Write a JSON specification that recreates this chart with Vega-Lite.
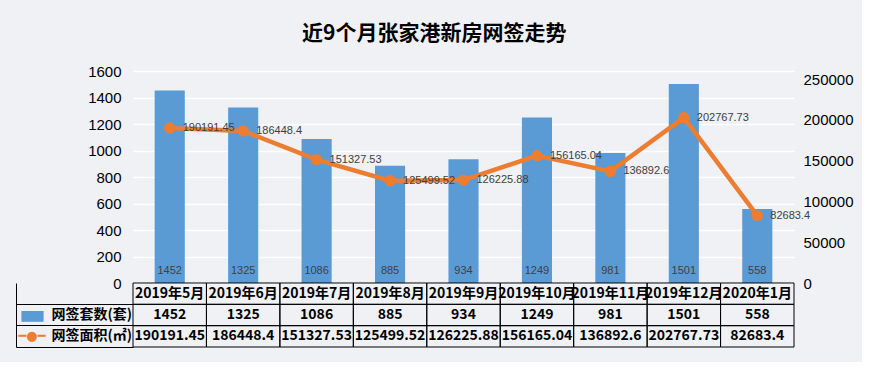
{
  "$schema": "https://vega.github.io/schema/vega-lite/v6.json",
  "background": "#eff1f5",
  "padding": {"left": 15, "top": 23, "right": 8, "bottom": 14},
  "title": {"text": "近9个月张家港新房网签走势", "font": "Noto Sans CJK SC", "fontSize": 21, "fontWeight": "bold", "color": "#000000", "anchor": "middle", "offset": 20},
  "data": {"values": [
    {"month": "2019年5月", "count": 1452, "area": 190191.45},
    {"month": "2019年6月", "count": 1325, "area": 186448.4},
    {"month": "2019年7月", "count": 1086, "area": 151327.53},
    {"month": "2019年8月", "count": 885, "area": 125499.52},
    {"month": "2019年9月", "count": 934, "area": 126225.88},
    {"month": "2019年10月", "count": 1249, "area": 156165.04},
    {"month": "2019年11月", "count": 981, "area": 136892.6},
    {"month": "2019年12月", "count": 1501, "area": 202767.73},
    {"month": "2020年1月", "count": 558, "area": 82683.4}
  ]},
  "spacing": 0,
  "bounds": "flush",
  "config": {"view": {"stroke": null}, "axis": {"labelOverlap": false}},
  "vconcat": [
    {
      "width": 661,
      "height": 212,
      "layer": [
        {
          "mark": {"type": "bar", "color": "#5b9bd5"},
          "encoding": {
            "x": {"field": "month", "type": "nominal", "sort": null, "scale": {"paddingInner": 0.59, "paddingOuter": 0.295}, "axis": null},
            "y": {"field": "count", "type": "quantitative", "scale": {"domain": [0, 1600]},
              "axis": {"orient": "left", "values": [0, 200, 400, 600, 800, 1000, 1200, 1400, 1600], "format": "d", "labelOverlap": false, "title": null, "domain": false, "ticks": false, "labelFont": "Liberation Sans", "labelFontSize": 15, "labelColor": "#000000", "labelPadding": 12, "grid": true, "gridColor": "#ffffff", "gridWidth": 1.5}}
          }
        },
        {
          "layer": [
            {
              "mark": {"type": "line", "color": "#ed7d31", "strokeWidth": 4.5},
              "encoding": {
                "x": {"field": "month", "type": "nominal", "sort": null},
                "y": {"field": "area", "type": "quantitative", "scale": {"domain": [0, 250000]},
                  "axis": {"orient": "right", "values": [0, 50000, 100000, 150000, 200000, 250000], "format": "d", "labelOverlap": false, "title": null, "domain": false, "ticks": false, "grid": false, "labelFont": "Liberation Sans", "labelFontSize": 15, "labelColor": "#000000", "labelPadding": 9}}
              }
            },
            {
              "mark": {"type": "point", "filled": true, "size": 130, "color": "#ed7d31", "opacity": 1},
              "encoding": {
                "x": {"field": "month", "type": "nominal", "sort": null},
                "y": {"field": "area", "type": "quantitative"}
              }
            },
            {
              "mark": {"type": "text", "align": "left", "baseline": "middle", "dx": 13, "fontSize": 11, "font": "Liberation Sans", "color": "#404040"},
              "encoding": {
                "x": {"field": "month", "type": "nominal", "sort": null},
                "y": {"field": "area", "type": "quantitative"},
                "text": {"field": "area", "type": "nominal"}
              }
            }
          ]
        },
        {
          "mark": {"type": "text", "baseline": "bottom", "dy": -7, "fontSize": 11, "font": "Liberation Sans", "color": "#404040"},
          "encoding": {
            "x": {"field": "month", "type": "nominal", "sort": null},
            "y": {"datum": 0, "type": "quantitative", "scale": {"domain": [0, 1]}, "axis": null},
            "text": {"field": "count", "type": "nominal"}
          }
        }
      ],
      "resolve": {"scale": {"y": "independent"}}
    },
    {
      "width": 661,
      "height": 64,
      "layer": [
        {
          "mark": {"type": "rect", "fillOpacity": 0, "stroke": "#000000", "strokeWidth": 1},
          "encoding": {
            "x": {"field": "month", "type": "nominal", "sort": null, "scale": {"paddingInner": 0, "paddingOuter": 0}, "axis": null},
            "y": {"datum": "月份", "type": "nominal", "scale": {"domain": ["月份", "网签套数(套)", "网签面积(㎡)"], "paddingInner": 0, "paddingOuter": 0},
              "axis": {"orient": "left", "offset": 117, "labels": false, "domain": true, "domainColor": "#000000", "domainWidth": 1, "ticks": true, "tickSize": -117, "tickColor": "#000000", "tickWidth": 1, "bandPosition": 1, "grid": false, "title": null}}
          }
        },
        {
          "mark": {"type": "rect", "fillOpacity": 0, "stroke": "#000000", "strokeWidth": 1},
          "encoding": {
            "x": {"field": "month", "type": "nominal", "sort": null},
            "y": {"datum": "网签套数(套)", "type": "nominal", "axis": null}
          }
        },
        {
          "mark": {"type": "rect", "fillOpacity": 0, "stroke": "#000000", "strokeWidth": 1},
          "encoding": {
            "x": {"field": "month", "type": "nominal", "sort": null},
            "y": {"datum": "网签面积(㎡)", "type": "nominal", "axis": null}
          }
        },
        {
          "mark": {"type": "text", "font": "Noto Sans CJK SC", "fontWeight": "bold", "fontSize": 14, "color": "#000000"},
          "encoding": {
            "x": {"field": "month", "type": "nominal", "sort": null},
            "y": {"datum": "月份", "type": "nominal",
              "axis": {"orient": "left", "domain": false, "ticks": false, "grid": false, "title": null, "labelAlign": "left", "labelBaseline": "middle", "labelPadding": 82, "labelFont": "Noto Sans CJK SC", "labelFontWeight": "bold", "labelFontSize": 14, "labelColor": "#000000", "labelExpr": "datum.value == '月份' ? '' : datum.value"}},
            "text": {"field": "month", "type": "nominal"}
          }
        },
        {
          "mark": {"type": "text", "font": "Noto Sans CJK SC", "fontWeight": "bold", "fontSize": 14, "color": "#000000"},
          "encoding": {
            "x": {"field": "month", "type": "nominal", "sort": null},
            "y": {"datum": "网签套数(套)", "type": "nominal",
              "axis": {"orient": "left", "domain": false, "ticks": false, "grid": false, "title": null, "labelAlign": "left", "labelBaseline": "middle", "labelPadding": 115, "labelFont": "DejaVu Sans", "labelFontSize": {"condition": {"test": "datum.value == '网签套数(套)'", "value": 29}, "value": 13}, "labelExpr": "datum.value == '网签套数(套)' ? '▬' : (datum.value == '网签面积(㎡)' ? '━●━' : '')", "labelColor": {"condition": {"test": "datum.value == '网签套数(套)'", "value": "#5b9bd5"}, "value": "#ed7d31"}}},
            "text": {"field": "count", "type": "nominal"}
          }
        },
        {
          "mark": {"type": "text", "font": "Noto Sans CJK SC", "fontWeight": "bold", "fontSize": 14, "color": "#000000"},
          "encoding": {
            "x": {"field": "month", "type": "nominal", "sort": null},
            "y": {"datum": "网签面积(㎡)", "type": "nominal", "axis": null},
            "text": {"field": "area", "type": "nominal"}
          }
        }
      ],
      "resolve": {"axis": {"y": "independent"}}
    }
  ]
}
